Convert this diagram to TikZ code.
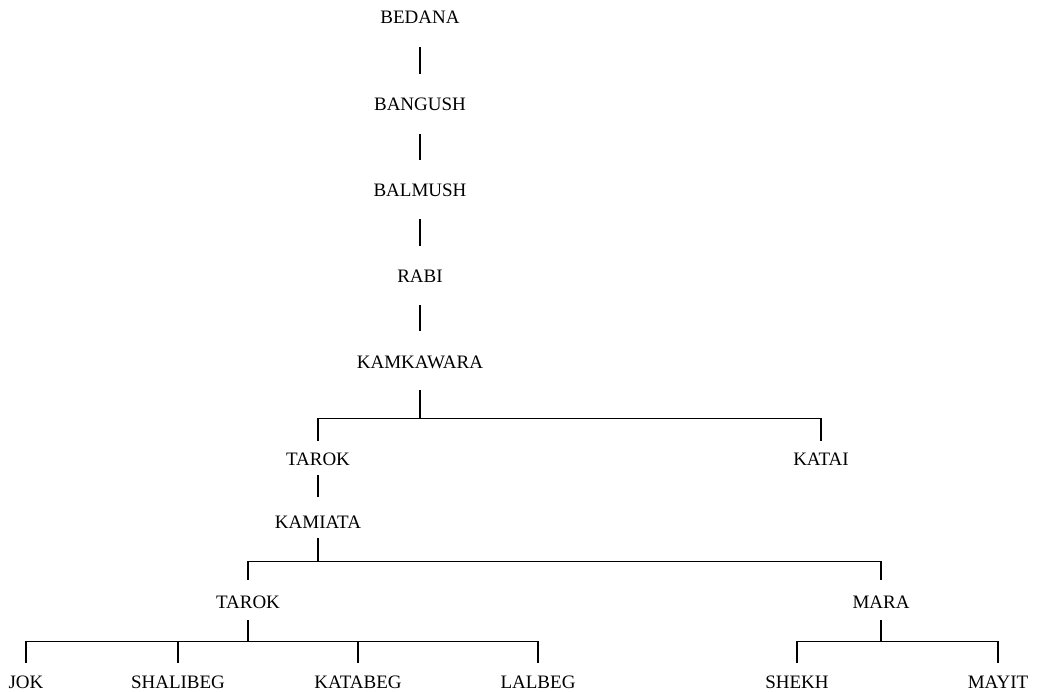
\documentclass[tikz,border=0pt]{standalone}
\usepackage{fontspec}
\setmainfont{Liberation Serif}
\begin{document}
\begin{tikzpicture}[x=1pt,y=-1pt,
  person/.style={anchor=base,inner sep=0pt,font=\fontsize{19}{22}\selectfont,text height=13pt,text depth=0pt},
  link/.style={line width=1.2pt}]
\useasboundingbox (0,0) rectangle (1038,692);
\node[person] (bedana)   at (420,24)  {BEDANA};
\node[person] (bangush)  at (420,111) {BANGUSH};
\node[person] (balmush)  at (420,197) {BALMUSH};
\node[person] (rabi)     at (420,283) {RABI};
\node[person] (kamk)     at (420,368) {KAMKAWARA};
\node[person] (tarokA)   at (318,465) {TAROK};
\node[person] (katai)    at (821,465) {KATAI};
\node[person] (kamiata)  at (318,528) {KAMIATA};
\node[person] (tarokB)   at (248,608) {TAROK};
\node[person] (mara)     at (881,608) {MARA};
\node[person] (jok)      at (26,688)  {JOK};
\node[person] (shalibeg) at (178,688) {SHALIBEG};
\node[person] (katabeg)  at (358,688) {KATABEG};
\node[person] (lalbeg)   at (538,688) {LALBEG};
\node[person] (shekh)    at (797,688) {SHEKH};
\node[person] (mayit)    at (998,688) {MAYIT};

\draw[link] ([yshift=-23pt]bedana.base)  -- ([yshift=24pt]bangush.north);
\draw[link] ([yshift=-23pt]bangush.base) -- ([yshift=24pt]balmush.north);
\draw[link] ([yshift=-22pt]balmush.base) -- ([yshift=24pt]rabi.north);
\draw[link] ([yshift=-22pt]rabi.base)    -- ([yshift=24pt]kamk.north);
\draw[link] ([yshift=-22pt]kamk.base) -- ++(0,-29pt);
\draw[link] ([yshift=11pt]tarokA.north) -- ++(0,22pt) -| ([yshift=11pt]katai.north);
\draw[link] ([yshift=-10pt]tarokA.base) -- ([yshift=18pt]kamiata.north);
\draw[link] ([yshift=-10pt]kamiata.base) -- ++(0,-24pt);
\draw[link] ([yshift=15pt]tarokB.north) -- ++(0,18pt) -| ([yshift=15pt]mara.north);
\draw[link] ([yshift=-12pt]tarokB.base) -- ++(0,-22pt);
\draw[link] ([yshift=-12pt]mara.base) -- ++(0,-22pt);
\draw[link] ([yshift=12pt]jok.north) -- ++(0,21pt) -| ([yshift=12pt]lalbeg.north);
\draw[link] ([yshift=12pt]shalibeg.north) -- ++(0,21pt);
\draw[link] ([yshift=12pt]katabeg.north) -- ++(0,21pt);
\draw[link] ([yshift=12pt]shekh.north) -- ++(0,21pt) -| ([yshift=12pt]mayit.north);
\end{tikzpicture}
\end{document}
